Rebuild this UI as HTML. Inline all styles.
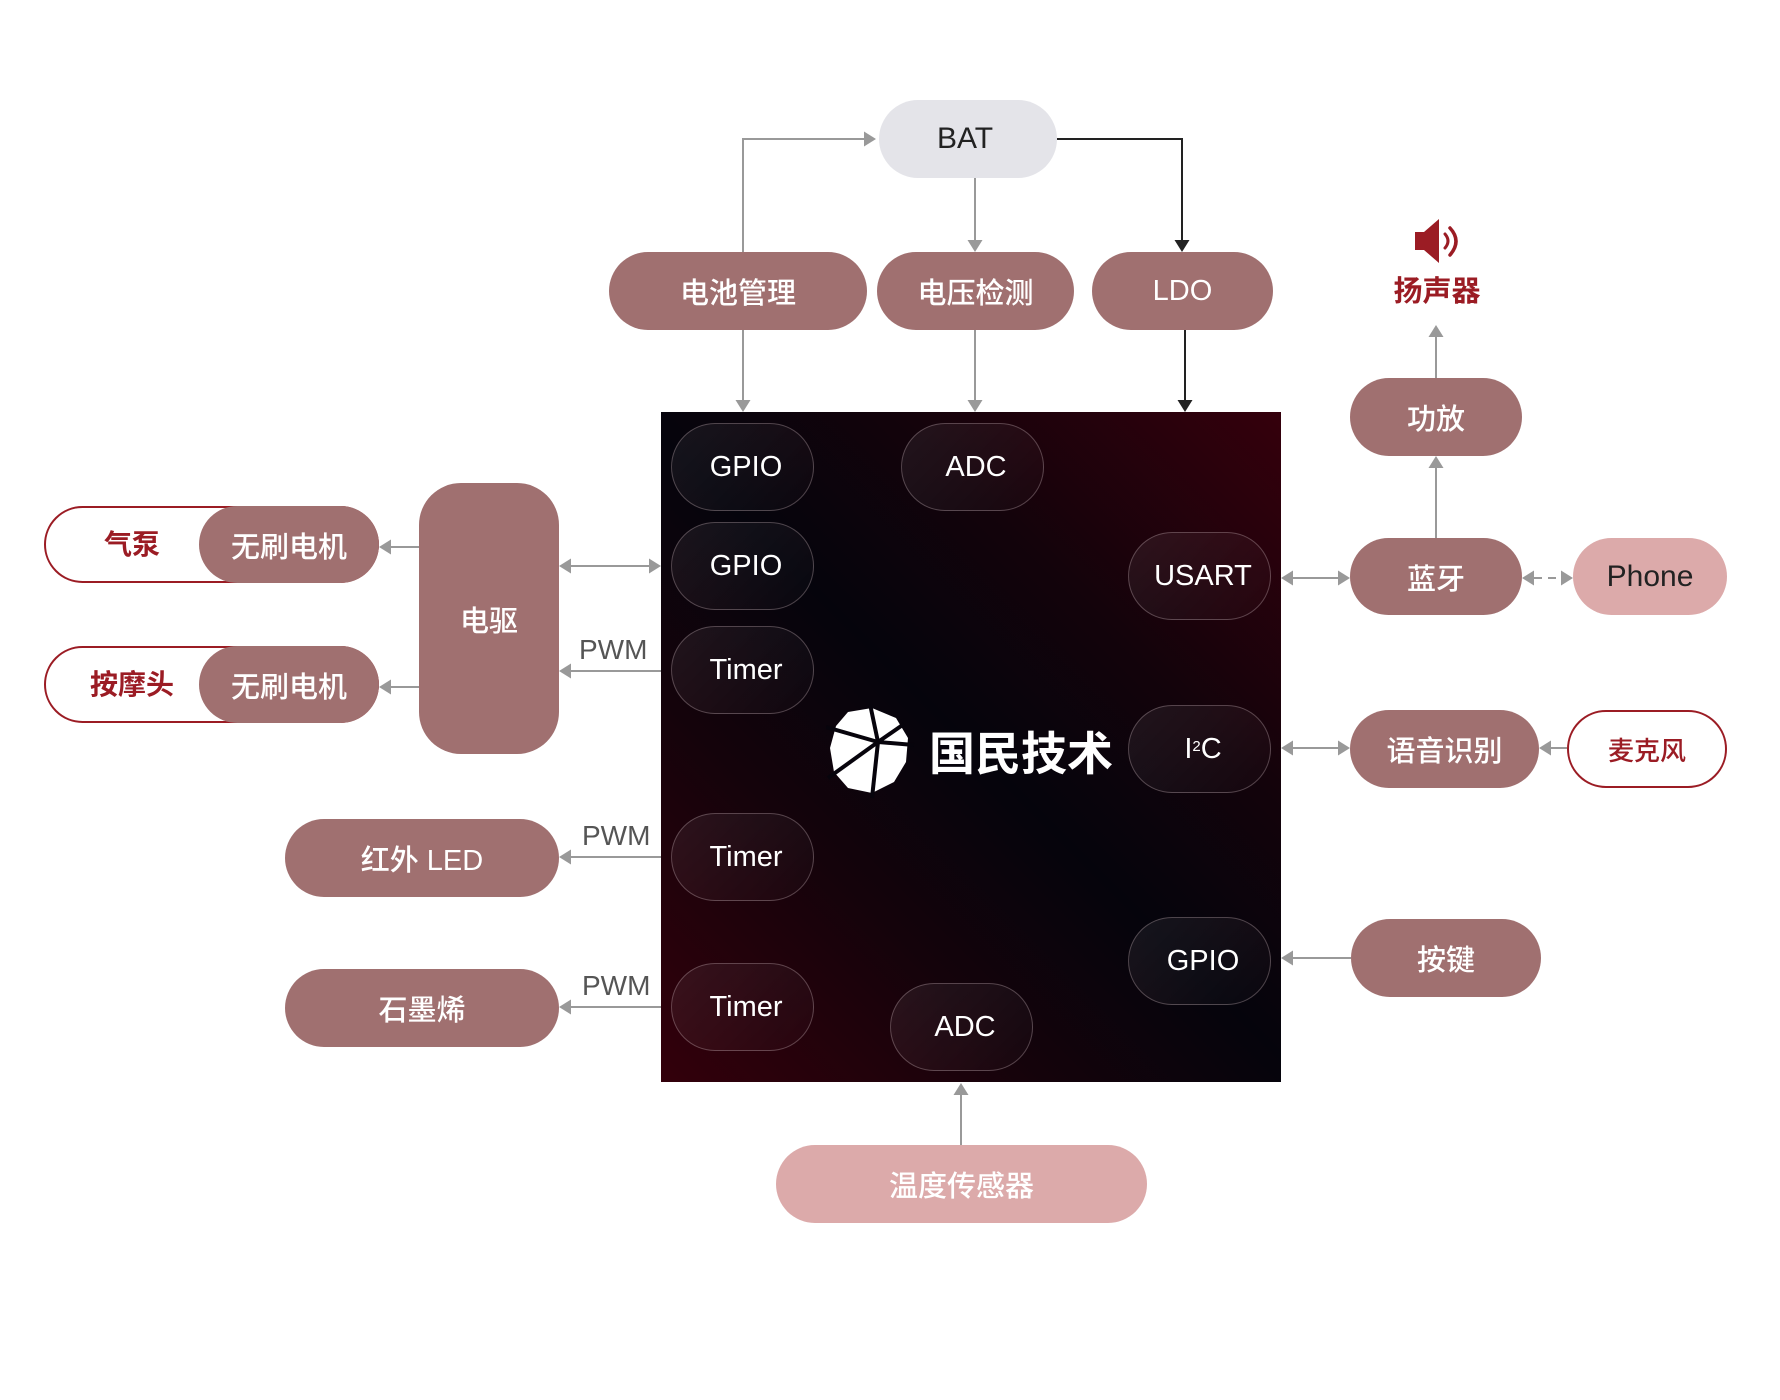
<!DOCTYPE html>
<html><head><meta charset="utf-8">
<style>
html,body{margin:0;padding:0;background:#fff;}
body{width:1780px;height:1400px;position:relative;overflow:hidden;font-family:"Liberation Sans","Noto Sans CJK SC",sans-serif;}
.n{position:absolute;display:flex;align-items:center;justify-content:center;box-sizing:border-box;border-radius:40px;background:#a07070;color:#fff;font-size:29px;font-weight:500;white-space:nowrap;}
.chip{position:absolute;left:661px;top:412px;width:620px;height:670px;background:linear-gradient(45deg,#33000b 0%,#14030b 30%,#05040c 50%,#13030b 70%,#35000c 100%);}
.p{position:absolute;width:143px;height:88px;box-sizing:border-box;padding-left:7px;border-radius:44px;border:1.5px solid rgba(210,190,195,0.32);background:linear-gradient(135deg,rgba(255,255,255,0.07),rgba(255,255,255,0.015));color:#fff;font-size:29px;display:flex;align-items:center;justify-content:center;font-family:"Liberation Sans",sans-serif;}
.lbl{position:absolute;font-size:28px;color:#555;font-family:"Liberation Sans",sans-serif;}
.red{color:#9b1c24;font-weight:700;}
</style></head><body>

<div class="chip"></div>

<!-- top nodes -->
<div class="n" style="left:879px;top:100px;width:178px;height:78px;background:#e4e4e9;color:#222;font-size:30px;padding-right:6px;">BAT</div>
<div class="n" style="left:609px;top:252px;width:258px;height:78px;">电池管理</div>
<div class="n" style="left:877px;top:252px;width:197px;height:78px;">电压检测</div>
<div class="n" style="left:1092px;top:252px;width:181px;height:78px;">LDO</div>

<!-- right nodes -->
<div class="n" style="left:1350px;top:378px;width:172px;height:78px;">功放</div>
<div class="n" style="left:1350px;top:538px;width:172px;height:77px;">蓝牙</div>
<div class="n" style="left:1573px;top:538px;width:154px;height:77px;background:#dcaaaa;color:#222;font-size:30px;">Phone</div>
<div class="n" style="left:1350px;top:710px;width:189px;height:78px;">语音识别</div>
<div class="n" style="left:1567px;top:710px;width:160px;height:78px;background:#fff;border:2px solid #9b1c24;color:#9b1c24;font-size:26px;">麦克风</div>
<div class="n" style="left:1351px;top:919px;width:190px;height:78px;">按键</div>

<div style="position:absolute;left:1380px;top:272px;width:114px;text-align:center;font-size:29px;line-height:40px;" class="red">扬声器</div>
<svg style="position:absolute;left:1410px;top:214px;" width="56" height="56" viewBox="1410 214 56 56">
  <path d="M1415 232 L1424 232 L1439 219 L1439 263 L1424 250 L1415 250 Z" fill="#9b1c24"/>
  <path d="M1445 234 Q1451 241 1445 248" stroke="#9b1c24" stroke-width="3" fill="none" stroke-linecap="round"/>
  <path d="M1450 228 Q1462 241 1450 255" stroke="#9b1c24" stroke-width="3.5" fill="none" stroke-linecap="round"/>
</svg>

<!-- bottom -->
<div class="n" style="left:776px;top:1145px;width:371px;height:78px;background:#dcaaaa;">温度传感器</div>

<!-- left nodes -->
<div class="n" style="left:44px;top:506px;width:335px;height:77px;background:#fff;border:2px solid #9b1c24;border-radius:39px;"></div>
<div class="red" style="position:absolute;left:82px;top:525px;width:100px;text-align:center;font-size:28px;line-height:40px;">气泵</div>
<div class="n" style="left:44px;top:646px;width:335px;height:77px;background:#fff;border:2px solid #9b1c24;border-radius:39px;"></div>
<div class="red" style="position:absolute;left:72px;top:665px;width:120px;text-align:center;font-size:28px;line-height:40px;">按摩头</div>
<div class="n" style="left:199px;top:506px;width:180px;height:77px;">无刷电机</div>
<div class="n" style="left:199px;top:646px;width:180px;height:77px;">无刷电机</div>
<div class="n" style="left:419px;top:483px;width:140px;height:271px;border-radius:42px;">电驱</div>
<div class="n" style="left:285px;top:819px;width:274px;height:78px;">红外 LED</div>
<div class="n" style="left:285px;top:969px;width:274px;height:78px;">石墨烯</div>

<div class="lbl" style="left:579px;top:634px;">PWM</div>
<div class="lbl" style="left:582px;top:820px;">PWM</div>
<div class="lbl" style="left:582px;top:970px;">PWM</div>

<!-- chip ports -->
<div class="p" style="left:671px;top:423px;">GPIO</div>
<div class="p" style="left:671px;top:522px;">GPIO</div>
<div class="p" style="left:671px;top:626px;">Timer</div>
<div class="p" style="left:671px;top:813px;">Timer</div>
<div class="p" style="left:671px;top:963px;">Timer</div>
<div class="p" style="left:901px;top:423px;">ADC</div>
<div class="p" style="left:890px;top:983px;">ADC</div>
<div class="p" style="left:1128px;top:532px;">USART</div>
<div class="p" style="left:1128px;top:705px;">I<sup style="font-size:15px;position:relative;top:-3px;">2</sup>C</div>
<div class="p" style="left:1128px;top:917px;">GPIO</div>

<!-- logo -->
<svg style="position:absolute;left:826px;top:704px;" width="90" height="95" viewBox="826 704 90 95">
  <polygon points="848,712 872,708 896,718 908,738 906,762 894,782 872,793 848,788 834,772 830,748 836,726" fill="#fff"/>
  <g stroke="#07040c" stroke-width="4" stroke-linecap="butt">
    <line x1="878" y1="742" x2="870" y2="704"/>
    <line x1="878" y1="742" x2="826" y2="727"/>
    <line x1="878" y1="742" x2="904" y2="724"/>
    <line x1="878" y1="742" x2="914" y2="745"/>
    <line x1="878" y1="742" x2="828" y2="778"/>
    <line x1="878" y1="742" x2="872" y2="798"/>
  </g>
</svg>
<div style="position:absolute;left:929px;top:722px;font-size:46px;line-height:58px;font-weight:700;color:#fff;font-family:'Noto Sans CJK SC',sans-serif;">国民技术</div>

<!-- connectors -->
<svg style="position:absolute;left:0;top:0;" width="1780" height="1400">
  <g fill="none" stroke="#999" stroke-width="2">
    <polyline points="743,252 743,139 864,139"/>
    <line x1="975" y1="178" x2="975" y2="240"/>
    <line x1="743" y1="330" x2="743" y2="400"/>
    <line x1="975" y1="330" x2="975" y2="400"/>
    <line x1="419" y1="547" x2="390" y2="547"/>
    <line x1="419" y1="687" x2="390" y2="687"/>
    <line x1="570" y1="566" x2="650" y2="566"/>
    <line x1="661" y1="671" x2="570" y2="671"/>
    <line x1="661" y1="857" x2="570" y2="857"/>
    <line x1="661" y1="1007" x2="570" y2="1007"/>
    <line x1="961" y1="1145" x2="961" y2="1094"/>
    <line x1="1292" y1="578" x2="1339" y2="578"/>
    <line x1="1534" y1="578" x2="1562" y2="578" stroke-dasharray="8,6"/>
    <line x1="1436" y1="538" x2="1436" y2="467"/>
    <line x1="1436" y1="378" x2="1436" y2="336"/>
    <line x1="1292" y1="748" x2="1339" y2="748"/>
    <line x1="1567" y1="748" x2="1550" y2="748"/>
    <line x1="1351" y1="958" x2="1292" y2="958"/>
  </g>
  <g fill="none" stroke="#222" stroke-width="2">
    <polyline points="1057,139 1182,139 1182,240"/>
    <line x1="1185" y1="330" x2="1185" y2="400"/>
  </g>
  <g fill="#999">
    <polygon points="876,139 864,131.5 864,146.5"/>
    <polygon points="975,252 967.5,240 982.5,240"/>
    <polygon points="743,412 735.5,400 750.5,400"/>
    <polygon points="975,412 967.5,400 982.5,400"/>
    <polygon points="379,547 391,539.5 391,554.5"/>
    <polygon points="379,687 391,679.5 391,694.5"/>
    <polygon points="559,566 571,558.5 571,573.5"/>
    <polygon points="661,566 649,558.5 649,573.5"/>
    <polygon points="559,671 571,663.5 571,678.5"/>
    <polygon points="559,857 571,849.5 571,864.5"/>
    <polygon points="559,1007 571,999.5 571,1014.5"/>
    <polygon points="961,1083 953.5,1095 968.5,1095"/>
    <polygon points="1281,578 1293,570.5 1293,585.5"/>
    <polygon points="1350,578 1338,570.5 1338,585.5"/>
    <polygon points="1522,578 1534,570.5 1534,585.5"/>
    <polygon points="1573,578 1561,570.5 1561,585.5"/>
    <polygon points="1436,456 1428.5,468 1443.5,468"/>
    <polygon points="1436,325 1428.5,337 1443.5,337"/>
    <polygon points="1281,748 1293,740.5 1293,755.5"/>
    <polygon points="1350,748 1338,740.5 1338,755.5"/>
    <polygon points="1539,748 1551,740.5 1551,755.5"/>
    <polygon points="1281,958 1293,950.5 1293,965.5"/>
  </g>
  <g fill="#222">
    <polygon points="1182,252 1174.5,240 1189.5,240"/>
    <polygon points="1185,412 1177.5,400 1192.5,400"/>
  </g>
</svg>
</body></html>
